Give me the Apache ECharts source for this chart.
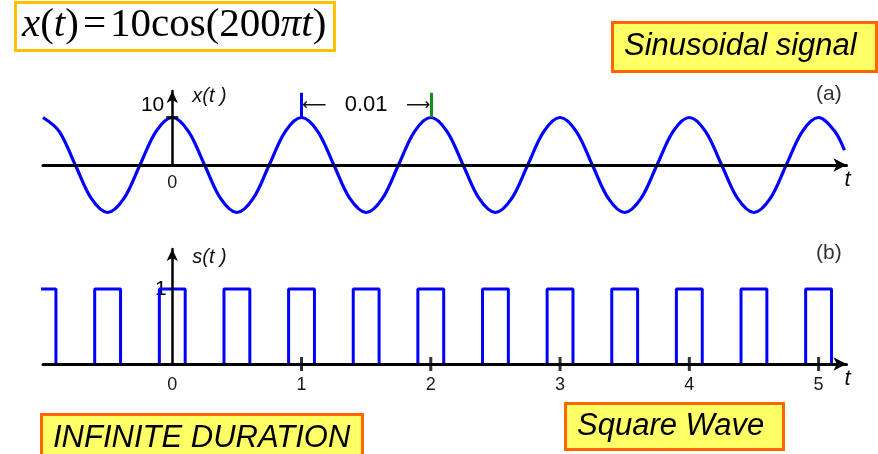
<!DOCTYPE html>
<html><head><meta charset="utf-8">
<script src="https://cdn.jsdelivr.net/npm/echarts@6/dist/echarts.min.js"></script>
<style>html,body{margin:0;padding:0;background:#fff}#c{width:878px;height:454px}</style>
</head><body><div id="c"></div>
<script>
// ---- data ----
// (a) sinusoid x(t) = 10cos(200πt), sampled every 1/8 period (time axis in units of 0.01 s)
const sigT = [-1,-0.875,-0.75,-0.625,-0.5,-0.375,-0.25,-0.125,
  0,0.125,0.25,0.375,0.5,0.625,0.75,0.875,
  1,1.125,1.25,1.375,1.5,1.625,1.75,1.875,
  2,2.125,2.25,2.375,2.5,2.625,2.75,2.875,
  3,3.125,3.25,3.375,3.5,3.625,3.75,3.875,
  4,4.125,4.25,4.375,4.5,4.625,4.75,4.875,
  5,5.125,5.2];
const sigX = [10,7.1,0,-7.1,-10,-7.1,0,7.1,
  10,7.1,0,-7.1,-10,-7.1,0,7.1,
  10,7.1,0,-7.1,-10,-7.1,0,7.1,
  10,7.1,0,-7.1,-10,-7.1,0,7.1,
  10,7.1,0,-7.1,-10,-7.1,0,7.1,
  10,7.1,0,-7.1,-10,-7.1,0,7.1,
  10,7.1,3.1];
const periodMarkT = [1, 2];          // peaks marking one period
const periodLabel = '0.01';
const topYTicks = [10];
const topXTickLabels = [0];

// (b) square wave s(t): rising / falling edge times, high level 1
const pulseRise = [-1.1,-0.6,-0.1,0.4,0.9,1.4,1.9,2.4,2.9,3.4,3.9,4.4,4.9];
const pulseFall = [-0.9,-0.4,0.1,0.6,1.1,1.6,2.1,2.6,3.1,3.6,4.1,4.6,5.1];
const pulseHigh = 1;
const botYTicks = [1];
const botXTickLabels = [0,1,2,3,4,5];
const botXTickMarks = [1,2,3,4,5];

// ---- build ----
const sigData = sigT.map((t,i)=>[t, sigX[i]]);
const sqData = [];
pulseRise.forEach((r,i)=>{
  const f = pulseFall[i];
  sqData.push([r,0],[r,pulseHigh],[f,pulseHigh],[f,0],[f,'-']);
});

const FONT = 'Liberation Sans, Arial, Helvetica, sans-serif';
const SERIF = 'Liberation Serif, Times New Roman, serif';
const BLUE = '#0000ff';

function xAxisCfg(gi, labels, margin){
  return {
    type:'value', gridIndex:gi, min:-1, max:5.216, interval:1, z:5,
    axisLine:{show:true, onZero:true, symbol:['none','arrow'], symbolSize:[10,13],
      lineStyle:{color:'#000', width:3}},
    axisTick:{show:false}, splitLine:{show:false},
    axisLabel:{fontSize:18, color:'#1a1a1a', fontFamily:FONT, margin:margin,
      formatter:v=>labels.some(l=>Math.abs(l-v)<1e-6)?String(Math.round(v)):''},
    name:'t', nameLocation:'end', nameGap:1,
    nameTextStyle:{fontStyle:'italic', fontSize:22, fontFamily:FONT, color:'#111',
      align:'center', verticalAlign:'top', padding:[4,0,0,0]}
  };
}
function yAxisCfg(gi, max, interval, name, nameGap){
  return {
    type:'value', gridIndex:gi, min:0, max:max, interval:interval, z:5,
    axisLine:{show:true, onZero:true, symbol:['none','arrow'], symbolSize:[8.5,12],
      lineStyle:{color:'#000', width:2.5}},
    axisTick:{show:false}, splitLine:{show:false}, axisLabel:{show:false},
    name:name, nameLocation:'end', nameGap:nameGap,
    nameTextStyle:{fontStyle:'italic', fontSize:20, fontFamily:FONT, color:'#111',
      align:'left', verticalAlign:'middle', padding:[0,0,0,20]}
  };
}

const boxStyle = (size)=>({fontSize:size, fontStyle:'italic', fontWeight:'normal', fontFamily:FONT, color:'#000'});
const labelBase = {fontFamily:FONT, color:'#111', textBorderWidth:0, opacity:1};

const chart = echarts.init(document.getElementById('c'), null, {renderer:'canvas'});
chart.setOption({
  animation:false,
  backgroundColor:'#fff',
  title:[
    {text:'{i|x}{n|(}{i|t}{n|)}{e|=}{n|10cos(200}{i|πt}{n|)}', left:15, top:2,
     padding:[3,8,5,7], backgroundColor:'#fff', borderColor:'#ffc000', borderWidth:3,
     textStyle:{fontWeight:'normal', rich:{
       i:{fontFamily:SERIF, fontStyle:'italic', fontWeight:'normal', fontSize:41, color:'#000'},
       n:{fontFamily:SERIF, fontWeight:'normal', fontSize:41, color:'#000'},
       e:{fontFamily:SERIF, fontWeight:'normal', fontSize:41, color:'#000', padding:[0,4,0,4]}
     }}},
    {text:'Sinusoidal signal', left:612, top:22, padding:[9,20,10,12],
     backgroundColor:'#ffff66', borderColor:'#ff6600', borderWidth:3, textStyle:boxStyle(31)},
    {text:'INFINITE DURATION', left:41, top:414, padding:[9,12,9,12],
     backgroundColor:'#ffff66', borderColor:'#ff6600', borderWidth:3, textStyle:boxStyle(31)},
    {text:'Square Wave', left:565, top:403, padding:[8,19,8,12],
     backgroundColor:'#ffff66', borderColor:'#ff6600', borderWidth:3, textStyle:boxStyle(31)},
    {text:'(a)', left:816, top:84, padding:0, textStyle:{fontSize:21, fontWeight:'normal', fontFamily:FONT, color:'#333'}},
    {text:'(b)', left:816, top:243, padding:0, textStyle:{fontSize:21, fontWeight:'normal', fontFamily:FONT, color:'#333'}}
  ],
  grid:[
    {left:43, right:31.5, top:91, height:74, containLabel:false, outerBoundsMode:'none'},
    {left:43, right:31.5, top:249, height:115, containLabel:false, outerBoundsMode:'none'}
  ],
  xAxis:[ xAxisCfg(0, topXTickLabels, 9), xAxisCfg(1, botXTickLabels, 12) ],
  yAxis:[
    yAxisCfg(0, 15.58, 10, 'x(t )', -5),
    yAxisCfg(1, 1.533, 1, 's(t )', -8)
  ],
  series:[
    {type:'line', xAxisIndex:0, yAxisIndex:0, data:sigData, smooth:0.34, showSymbol:false, clip:false,
     lineStyle:{color:BLUE, width:3.2}, z:3,
     markLine:{silent:true, symbol:'none', label:{show:false},
       data: periodMarkT.map((t,i)=>[
         {coord:[t,10], lineStyle:{color: i===0?BLUE:'#1a8a1a', width:3, type:'solid'}},
         {coord:[t,15.2]}
       ])}},
    // period annotation  "←  0.01  →"
    {type:'scatter', xAxisIndex:0, yAxisIndex:0, silent:true, z:6,
     data:[[ (periodMarkT[0]+periodMarkT[1])/2, 12.6 ]], symbol:'rect', symbolSize:1,
     itemStyle:{color:'rgba(255,255,255,0)'},
     label:Object.assign({show:true, position:'inside',
       formatter:'{a|\u27F5}{t|   '+periodLabel+'   }{a|\u27F6}',
       rich:{a:{fontFamily:'DejaVu Sans', fontSize:17, color:'#111'},
             t:{fontFamily:FONT, fontSize:22, color:'#000'}}}, labelBase)},
    // y tick at 10 with its label
    {type:'scatter', xAxisIndex:0, yAxisIndex:0, silent:true, z:6,
     data: topYTicks.map(v=>[0,v]), symbol:'rect', symbolSize:[12,3], itemStyle:{color:'#000'},
     label:Object.assign({show:true, position:'left', distance:2, offset:[0,-12],
       formatter:p=>String(p.value[1]), fontSize:21}, labelBase, {color:'#000'})},
    {type:'line', xAxisIndex:1, yAxisIndex:1, data:sqData, showSymbol:false, clip:true,
     connectNulls:false, lineStyle:{color:BLUE, width:3}, z:3},
    {type:'scatter', xAxisIndex:1, yAxisIndex:1, silent:true, z:6,
     data: botXTickMarks.map(v=>[v,0]), symbol:'rect', symbolSize:[3,14], itemStyle:{color:'#000'}},
    // y label "1" for the square wave
    {type:'scatter', xAxisIndex:1, yAxisIndex:1, silent:true, z:2,
     data: botYTicks.map(v=>[0,v]), symbol:'rect', symbolSize:1, itemStyle:{color:'rgba(255,255,255,0)'},
     label:Object.assign({show:true, position:'left', distance:5,
       formatter:p=>String(p.value[1]), fontSize:21}, labelBase, {color:'#000'})}
  ]
});
</script></body></html>
